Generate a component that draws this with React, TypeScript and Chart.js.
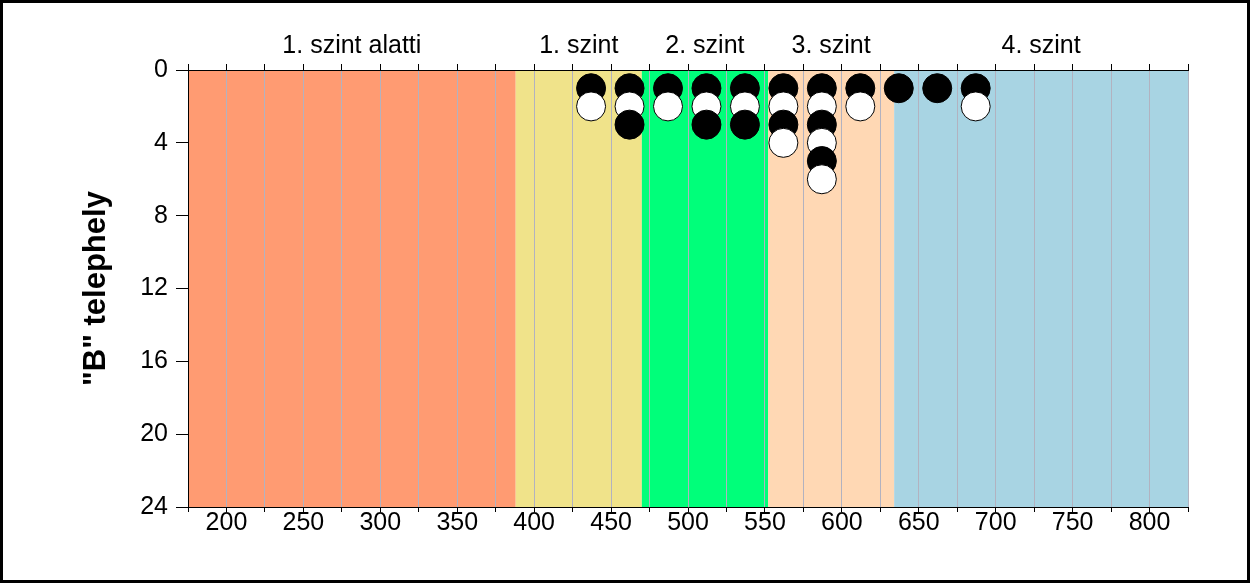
import React, { useEffect, useRef } from "react";
import { Chart, registerables } from "chart.js";

Chart.register(...registerables);

// ---- data ----
const bandStarts = [175, 388, 470, 552, 634];
const bandEnds = [388, 470, 552, 634, 825];
const bandColors = ["#FF9B72", "#F0E38A", "#00FF7A", "#FFD8B4", "#A8D4E3"];
const bandLabels = ["1. szint alatti", "1. szint", "2. szint", "3. szint", "4. szint"];

const blackX = [437, 462, 462, 487, 512, 512, 537, 537, 562, 562, 587, 587, 587, 612, 637, 662, 687];
const blackY = [1, 1, 3, 1, 1, 3, 1, 3, 1, 3, 1, 3, 5, 1, 1, 1, 1];
const whiteX = [437, 462, 487, 512, 537, 562, 562, 587, 587, 587, 612, 687];
const whiteY = [2, 2, 2, 2, 2, 2, 4, 2, 4, 6, 2, 2];

const xMin = 175;
const xMax = 825;
const yMin = 0;
const yMax = 24;
const yTitle = '"B" telephely';

const FONT = 'Arial, "Liberation Sans", sans-serif';

export default function App() {
  const ref = useRef<HTMLCanvasElement | null>(null);

  useEffect(() => {
    const canvas = ref.current;
    if (!canvas) return;

    const pts: { x: number; y: number; c: string }[] = [];
    blackX.forEach((x, i) => pts.push({ x, y: blackY[i], c: "#000000" }));
    whiteX.forEach((x, i) => pts.push({ x, y: whiteY[i], c: "#FFFFFF" }));
    pts.sort((a, b) => (a.x - b.x) || (a.y - b.y));

    const bandsPlugin = {
      id: "bands",
      beforeDraw(chart: any) {
        const { ctx, chartArea, scales } = chart;
        const xs = scales.x;
        ctx.save();
        ctx.fillStyle = "#ffffff";
        ctx.fillRect(0, 0, chart.width, chart.height);
        bandStarts.forEach((s, i) => {
          const x0 = xs.getPixelForValue(s);
          const x1 = xs.getPixelForValue(bandEnds[i]);
          ctx.fillStyle = bandColors[i];
          ctx.fillRect(x0, chartArea.top, x1 - x0, chartArea.bottom - chartArea.top);
        });
        ctx.restore();
      },
      afterDraw(chart: any) {
        const { ctx, scales } = chart;
        const xs = scales.x;
        ctx.save();
        ctx.fillStyle = "#000000";
        ctx.font = `25px ${FONT}`;
        ctx.textAlign = "center";
        ctx.textBaseline = "middle";
        bandLabels.forEach((t, i) => {
          const c = (bandStarts[i] + bandEnds[i]) / 2;
          ctx.fillText(t, xs.getPixelForValue(c), 46);
        });
        ctx.lineWidth = 3;
        ctx.strokeStyle = "#000000";
        ctx.strokeRect(1.5, 1.5, chart.width - 3, chart.height - 3);
        ctx.restore();
      },
    };

    const chart = new Chart(canvas, {
      type: "scatter",
      data: {
        datasets: [
          {
            data: pts.map((p) => ({ x: p.x, y: p.y })),
            pointBackgroundColor: pts.map((p) => p.c),
            pointBorderColor: "#000000",
            pointBorderWidth: 1,
            pointRadius: 14.5,
            pointHoverRadius: 14.5,
            clip: false as any,
          },
        ],
      },
      options: {
        animation: false,
        responsive: false,
        devicePixelRatio: 1,
        layout: { padding: { left: 0, top: 0, right: 62, bottom: 0 } },
        plugins: { legend: { display: false }, tooltip: { enabled: false } },
        scales: {
          x: {
            type: "linear",
            position: "bottom",
            min: xMin,
            max: xMax,
            afterFit(scale: any) {
              scale.height = 76;
            },
            ticks: {
              stepSize: 25,
              autoSkip: false,
              maxRotation: 0,
              color: "#000000",
              padding: -1,
              font: { family: FONT, size: 25, lineHeight: 1 },
              callback: (v: any) => (Number(v) % 50 === 0 ? String(v) : ""),
            },
            grid: {
              color: "rgb(178,178,192)",
              tickColor: "#000000",
              tickLength: 5,
              drawOnChartArea: true,
            },
            border: { display: true, color: "#000000", width: 1 },
          },
          x2: {
            type: "linear",
            position: "top",
            min: xMin,
            max: xMax,
            afterFit(scale: any) {
              scale.height = 70;
            },
            ticks: {
              stepSize: 25,
              autoSkip: false,
              maxRotation: 0,
              font: { size: 1 },
              callback: () => "",
            },
            grid: {
              drawOnChartArea: false,
              tickColor: "#000000",
              tickLength: 6,
            },
            border: { display: true, color: "#000000", width: 1 },
          },
          y: {
            type: "linear",
            position: "left",
            reverse: true,
            min: yMin,
            max: yMax,
            afterFit(scale: any) {
              scale.width = 188;
            },
            ticks: {
              stepSize: 4,
              color: "#000000",
              padding: 8,
              font: { family: FONT, size: 25 },
            },
            grid: {
              drawOnChartArea: false,
              tickColor: "#000000",
              tickLength: 12,
            },
            border: { display: true, color: "#000000", width: 1 },
            title: {
              display: true,
              text: yTitle,
              color: "#000000",
              font: { family: FONT, size: 31, weight: "bold" },
              padding: { top: 78, bottom: 0 },
            },
          },
        },
      },
      plugins: [bandsPlugin],
    });

    return () => chart.destroy();
  }, []);

  return (
    <div style={{ position: "fixed", left: 0, top: 0, width: 1250, height: 583, background: "#fff" }}>
      <canvas ref={ref} width={1250} height={583} style={{ width: 1250, height: 583, display: "block" }} />
    </div>
  );
}
